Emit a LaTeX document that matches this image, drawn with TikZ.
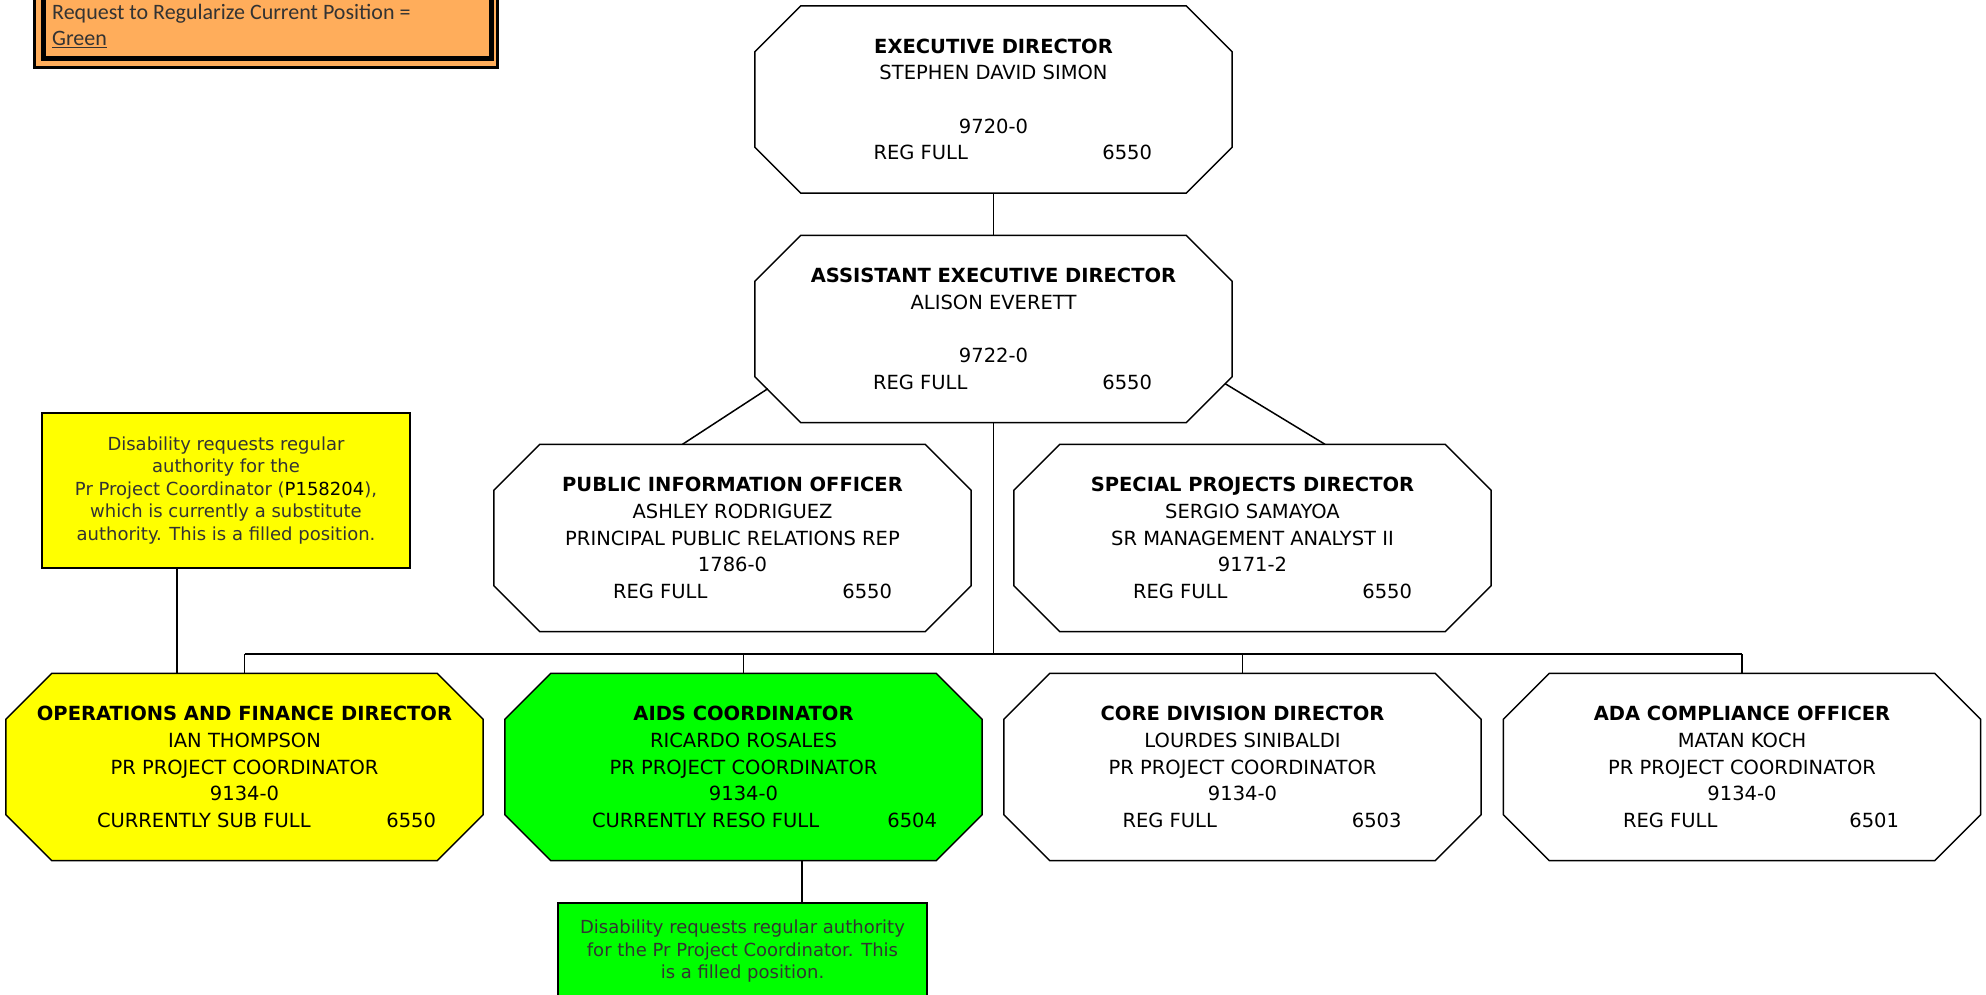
\documentclass[tikz,border=0pt]{standalone}
\usepackage{fontspec}
\setmainfont{DejaVu Sans}
\newfontfamily\legendfont{Carlito}
\usetikzlibrary{backgrounds}

\definecolor{legendorange}{RGB}{255,173,91}
\definecolor{noteyellow}{RGB}{255,255,0}
\definecolor{notegreen}{RGB}{0,255,0}
\definecolor{notetext}{RGB}{51,51,51}

\newcommand{\statln}[4]{\makebox[0pt]{\makebox[0pt][l]{\hspace*{#3pt}#1}\makebox[0pt][r]{#2\hspace*{#4pt}}}}

\tikzset{
  post/.style={minimum width=477pt, minimum height=187pt, inner sep=0pt, align=center, font=\fontsize{19.5}{26.7}\selectfont},
  octo/.style={draw, line width=1.5pt},
  note/.style={draw, line width=1.5pt, inner sep=0pt, align=center, text=notetext, font=\fontsize{18}{22.5}\selectfont},
  link/.style={line width=1.5pt}
}

\begin{document}
\begin{tikzpicture}[x=1pt, y=-1pt]
\useasboundingbox (0,0) rectangle (1986,995);

\draw [line width=3pt, fill=legendorange] (34.5,-30) rectangle (497.5,67.5);
\draw [line width=5pt] (43,-30) rectangle (491,59);
\node [anchor=north west, inner sep=0pt, align=left, text=notetext, font=\legendfont\fontsize{22}{26}\selectfont] (legend) at (52,4) {Request to Regularize Current Position =\\\underline{Green}};

\node [post] (exec) at (993.5,99.5) {\textbf{EXECUTIVE DIRECTOR}\\STEPHEN DAVID SIMON\\\strut\\9720-0\\\statln{REG FULL}{6550}{-120}{-158.5}};
\node [post] (asst) at (993.5,329) {\textbf{ASSISTANT EXECUTIVE DIRECTOR}\\ALISON EVERETT\\\strut\\9722-0\\\statln{REG FULL}{6550}{-120.5}{-158.5}};
\node [post] (pio) at (732.5,538) {\textbf{PUBLIC INFORMATION OFFICER}\\ASHLEY RODRIGUEZ\\PRINCIPAL PUBLIC RELATIONS REP\\1786-0\\\statln{REG FULL}{6550}{-119.5}{-159.5}};
\node [post] (spd) at (1252.5,538) {\textbf{SPECIAL PROJECTS DIRECTOR}\\SERGIO SAMAYOA\\SR MANAGEMENT ANALYST II\\9171-2\\\statln{REG FULL}{6550}{-119.5}{-159.5}};
\node [post] (ops) at (244.5,767) {\textbf{OPERATIONS AND FINANCE DIRECTOR}\\IAN THOMPSON\\PR PROJECT COORDINATOR\\9134-0\\\statln{CURRENTLY SUB FULL}{6550}{-147.5}{-191.5}};
\node [post] (aids) at (743.5,767) {\textbf{AIDS COORDINATOR}\\RICARDO ROSALES\\PR PROJECT COORDINATOR\\9134-0\\\statln{CURRENTLY RESO FULL}{6504}{-151.5}{-193.5}};
\node [post] (core) at (1242.5,767) {\textbf{CORE DIVISION DIRECTOR}\\LOURDES SINIBALDI\\PR PROJECT COORDINATOR\\9134-0\\\statln{REG FULL}{6503}{-120}{-159}};
\node [post] (ada) at (1742,767) {\textbf{ADA COMPLIANCE OFFICER}\\MATAN KOCH\\PR PROJECT COORDINATOR\\9134-0\\\statln{REG FULL}{6501}{-119}{-157}};

\begin{scope}[on background layer]
\foreach \n/\c in {exec/white,asst/white,pio/white,spd/white,ops/noteyellow,aids/notegreen,core/white,ada/white}
  \draw [octo, fill=\c] ([xshift=46pt]\n.north west) -- ([xshift=-46pt]\n.north east) -- ([yshift=-46pt]\n.north east) -- ([yshift=46pt]\n.south east) -- ([xshift=-46pt]\n.south east) -- ([xshift=46pt]\n.south west) -- ([yshift=46pt]\n.south west) -- ([yshift=-46pt]\n.north west) -- cycle;
\end{scope}

\node [note, fill=noteyellow, minimum width=368pt, minimum height=155pt] (opsnote) at (226,490.5) {Disability requests regular\\authority for the\\Pr Project Coordinator (\textcolor{black}{P158204}),\\which is currently a substitute\\authority. This is a filled position.};
\node [note, fill=notegreen, minimum width=369pt, minimum height=97pt] (aidsnote) at (742.5,951.5) {Disability requests regular authority\\for the Pr Project Coordinator. This\\is a filled position.};

\draw [link] (exec.south) -- (asst.north);
\draw [link] ([xshift=13pt,yshift=34pt]asst.south west) -- ([xshift=-50pt]pio.north);
\draw [link] ([xshift=-7pt,yshift=39pt]asst.south east) -- ([xshift=72.5pt]spd.north);
\coordinate (bus) at (993.5,654);
\draw [link] (asst.south) -- (bus);
\draw [link] (bus -| ops.north) -- (bus -| ada.north);
\foreach \n in {ops,aids,core,ada}
  \draw [link] (bus -| \n.north) -- (\n.north);
\draw [link] ([xshift=-49pt]opsnote.south) -- ([xshift=-49pt]opsnote.south |- ops.north);
\draw [link] ([xshift=58.5pt]aids.south) -- ([xshift=58.5pt]aids.south |- aidsnote.north);
\end{tikzpicture}
\end{document}
